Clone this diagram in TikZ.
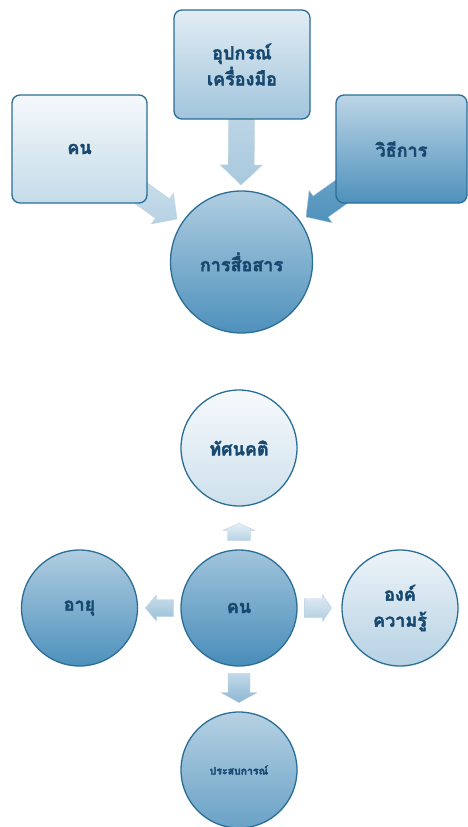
\documentclass[tikz,border=0pt]{standalone}
\usepackage{fontspec}
\newfontfamily\thaifont[Script=Thai,FakeBold=2.2]{Loma}
\usetikzlibrary{calc,backgrounds}

\definecolor{rim}{HTML}{2A6E98}
\definecolor{sky}{HTML}{2F7DB0}
\definecolor{ink}{HTML}{17486F}

% Block arrow from a tail point to a tip point:
% #1 name, #2 tail, #3 tip, #4 shaft half width, #5 head half width, #6 head length, #7 fill style
\newcommand{\blockarrow}[7]{%
  \coordinate (#1-h) at ($(#3)!#6!(#2)$);
  \shade[#7] ($(#2)!#4!90:(#3)$) -- ($(#1-h)!#4!90:(#3)$) -- ($(#1-h)!#5!90:(#3)$)
    -- (#3) -- ($(#1-h)!#5!-90:(#3)$) -- ($(#1-h)!#4!-90:(#3)$) -- ($(#2)!#4!-90:(#3)$) -- cycle;}

\begin{document}
\begin{tikzpicture}[x=1pt,y=-1pt,
  label/.style={text=ink, align=center, font=\thaifont\bfseries\fontsize{18}{26}\selectfont},
  card/.style={label, rectangle, rounded corners=8pt, draw=rim, line width=1.3pt, inner sep=0pt},
  ball/.style={label, circle, draw=rim, line width=1.3pt, inner sep=0pt, minimum size=116pt},
  arr/.style={draw=rim!30, line width=0.4pt, line join=round}]
\useasboundingbox (0,0) rectangle (468,827);

% ---------- communication ----------
\node[card, minimum width=135pt, minimum height=108pt, top color=sky!5, bottom color=sky!28]
  (person) at (79.5,149) {คน};
\node[card, minimum width=136pt, minimum height=109pt, top color=sky!14, bottom color=sky!45]
  (tool) at (242,64.5) {อุปกรณ์\\เครื่องมือ};
\node[card, minimum width=131pt, minimum height=108pt, top color=sky!32, bottom color=sky!85]
  (method) at (401.5,149) {วิธีการ};
\node[ball, minimum size=142pt, top color=sky!38, bottom color=sky!85]
  (talk) at (241.5,262) {การสื่อสาร};

% ---------- the person and what shapes them ----------
\node[ball, top color=sky!4, bottom color=sky!24] (view) at (239,448) {ทัศนคติ};
\node[ball, top color=sky!45, bottom color=sky!88] (hub) at (239,608) {คน};
\node[ball, top color=sky!38, bottom color=sky!85] (age) at (79.5,608) {อายุ};
\node[ball, top color=sky!9, bottom color=sky!35] (know) at (400,608) {องค์\\ความรู้};
\node[ball, top color=sky!35, bottom color=sky!72, font=\thaifont\bfseries\fontsize{10.5}{13}\selectfont]
  (exp) at (239,770) {ประสบการณ์};

% free ends of the block arrows
\coordinate (t1) at (177,219);
\coordinate (t2) at (241,185);
\coordinate (t3) at (306,217);
\coordinate (u-tail) at ($(hub.north)+(0,-9)$);
\coordinate (u-tip)  at ($(hub.north)+(0,-26)$);
\coordinate (d-tail) at ($(hub.south)+(0,7)$);
\coordinate (d-tip)  at ($(hub.south)+(0,36)$);
\coordinate (l-tail) at ($(hub.west)+(-7,0)$);
\coordinate (l-tip)  at ($(hub.west)+(-35,0)$);
\coordinate (r-tail) at ($(hub.east)+(7,0)$);
\coordinate (r-tip)  at ($(hub.east)+(34,0)$);

\begin{pgfonlayer}{background}
  \blockarrow{a1}{person.center}{t1}{12pt}{19pt}{18pt}{arr, top color=sky!18, bottom color=sky!35}
  \blockarrow{a2}{tool.center}{t2}{13pt}{21pt}{20pt}{arr, top color=sky!25, bottom color=sky!42}
  \blockarrow{a3}{method.center}{t3}{13pt}{20pt}{18pt}{arr, top color=sky!62, bottom color=sky!85}
  \blockarrow{b1}{u-tail}{u-tip}{11.5pt}{16pt}{7pt}{arr, top color=sky!12, bottom color=sky!35}
  \blockarrow{b2}{d-tail}{d-tip}{11pt}{18pt}{10pt}{arr, top color=sky!30, bottom color=sky!55}
  \blockarrow{b3}{l-tail}{l-tip}{8.5pt}{13pt}{11pt}{arr, top color=sky!25, bottom color=sky!50}
  \blockarrow{b4}{r-tail}{r-tip}{9.5pt}{13.5pt}{9pt}{arr, top color=sky!15, bottom color=sky!38}
\end{pgfonlayer}
\end{tikzpicture}
\end{document}
